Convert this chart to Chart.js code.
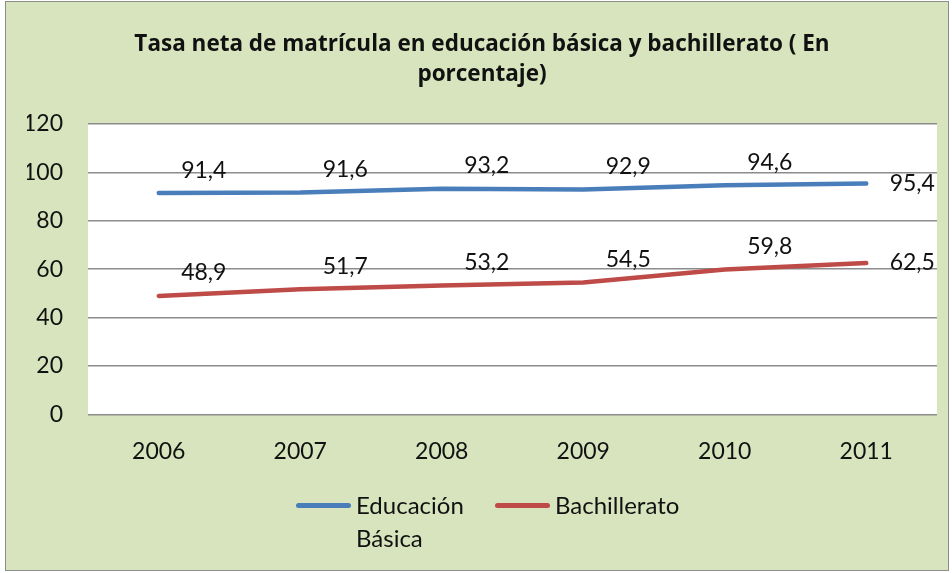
<!DOCTYPE html>
<html lang="es">
<head>
  <meta charset="UTF-8" />
  <title>Tasa neta de matrícula</title>
  <script src="https://cdn.jsdelivr.net/npm/chart.js"></script>
  <style>
    body {
      margin: 0;
      width: 952px;
      height: 573px;
      position: relative;
      background: #fff;
      font-family: Lato, "Open Sans", sans-serif;
    }
    .frame {
      position: absolute;
      left: 5px;
      top: 1px;
      width: 942px;
      height: 568px;
      border: 1px solid #8c8c8c;
      background: #d7e4bd;
    }
    #chart {
      position: absolute;
      left: 0;
      top: 0;
    }
    .legend {
      position: absolute;
      top: 488px;
      font-size: 24px;
      line-height: 33px;
      color: #111;
    }
    .legend .swatch {
      position: absolute;
      left: 0;
      top: 15px;
      width: 55px;
      height: 5px;
      border-radius: 3px;
    }
    .legend .text {
      margin-left: 60px;
      white-space: nowrap;
    }
  </style>
</head>
<body>
  <div class="frame"></div>
  <canvas id="chart" width="952" height="573"></canvas>
  <div class="legend" style="left:296px">
    <div class="swatch" style="background:#4a7ebb"></div>
    <div class="text">Educación<br>Básica</div>
  </div>
  <div class="legend" style="left:495px">
    <div class="swatch" style="background:#be4b48"></div>
    <div class="text">Bachillerato</div>
  </div>

  <script>
    const years = ['2006', '2007', '2008', '2009', '2010', '2011'];
    const basica = [91.4, 91.6, 93.2, 92.9, 94.6, 95.4];
    const bachillerato = [48.9, 51.7, 53.2, 54.5, 59.8, 62.5];

    const fmt = v => v.toFixed(1).replace('.', ',');

    // etiquetas de datos al estilo Excel: arriba a la derecha, la última a la derecha
    const dataLabels = {
      id: 'dataLabels',
      afterDatasetsDraw(chart) {
        const ctx = chart.ctx;
        ctx.save();
        ctx.font = '23px Lato';
        ctx.fillStyle = '#111';
        ctx.textAlign = 'center';
        ctx.textBaseline = 'middle';
        chart.data.datasets.forEach((ds, i) => {
          const meta = chart.getDatasetMeta(i);
          meta.data.forEach((pt, j) => {
            const last = j === meta.data.length - 1;
            const dx = last ? 46 : 45;
            const dy = last ? 0 : -23;
            ctx.fillText(fmt(ds.data[j]), pt.x + dx, pt.y + dy);
          });
        });
        ctx.restore();
      }
    };

    new Chart(document.getElementById('chart'), {
      type: 'line',
      data: {
        labels: years,
        datasets: [
          { label: 'Educación Básica', data: basica, borderColor: '#4a7ebb', borderWidth: 4.5, borderCapStyle: 'round', pointRadius: 0, tension: 0 },
          { label: 'Bachillerato', data: bachillerato, borderColor: '#be4b48', borderWidth: 4.5, borderCapStyle: 'round', pointRadius: 0, tension: 0 }
        ]
      },
      plugins: [dataLabels, {
        id: 'plotBg',
        beforeDraw(chart) {
          const a = chart.chartArea;
          chart.ctx.save();
          chart.ctx.fillStyle = '#fff';
          chart.ctx.fillRect(a.left, a.top, a.right - a.left, a.bottom - a.top);
          chart.ctx.restore();
        }
      }],
      options: {
        responsive: false,
        animation: false,
        layout: { padding: { left: 27, right: 15, bottom: 85 } },
        plugins: {
          legend: { display: false },
          tooltip: { enabled: false },
          title: {
            display: true,
            text: ['Tasa neta de matrícula en educación básica y bachillerato ( En', 'porcentaje)'],
            color: '#111',
            font: { family: '"Open Sans"', size: 22.5, weight: 'bold', lineHeight: 1.33 },
            padding: { top: 30, bottom: 34 }
          }
        },
        scales: {
          x: {
            offset: true,
            grid: { display: false, drawTicks: false },
            border: { display: false },
            ticks: { color: '#111', font: { family: 'Lato', size: 23 }, padding: 23 }
          },
          y: {
            min: 0,
            max: 120,
            afterFit(scale) { scale.width = 61; },
            grid: { color: '#8c8c8c', lineWidth: 1.5, drawTicks: false },
            border: { display: false },
            ticks: { stepSize: 20, color: '#111', font: { family: 'Lato', size: 23 }, padding: 25 }
          }
        }
      }
    });
  </script>
</body>
</html>
